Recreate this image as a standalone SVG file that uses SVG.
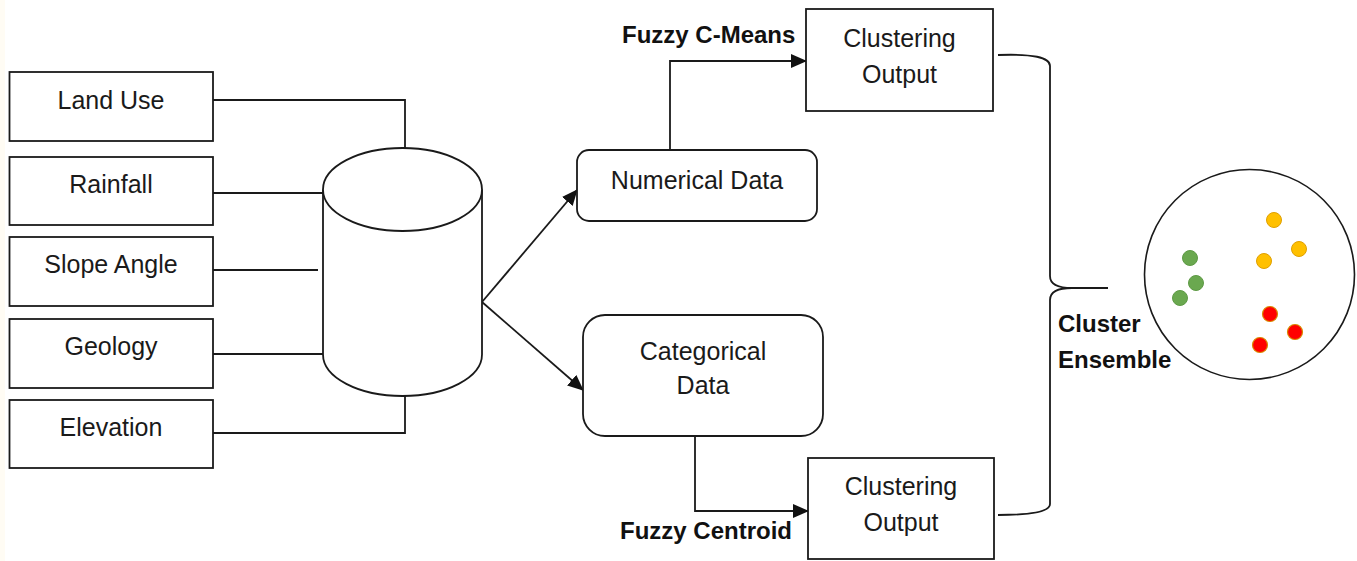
<svg xmlns="http://www.w3.org/2000/svg" width="1357" height="561" viewBox="0 0 1357 561">
  <defs>
    <marker id="arrow" markerUnits="userSpaceOnUse" markerWidth="16" markerHeight="14" refX="15" refY="7" orient="auto">
      <path d="M0,0 L16,7 L0,14 Z" fill="#111"/>
    </marker>
    <style>
      .box { fill: #fff; stroke: #1a1a1a; stroke-width: 1.8; }
      .line { fill: none; stroke: #1a1a1a; stroke-width: 1.8; }
      .lbl { font-family: "Liberation Sans", Arial, sans-serif; font-size: 25px; fill: #1a1a1a; text-anchor: middle; }
      .bold { font-family: "Liberation Sans", Arial, sans-serif; font-size: 24px; font-weight: bold; fill: #111; }
      .dot-g { fill: #6aa84f; stroke: #5e9a45; stroke-width: 1; }
      .dot-y { fill: #ffc000; stroke: #e0a000; stroke-width: 1; }
      .dot-r { fill: #ff0000; stroke: #d98a00; stroke-width: 1.2; }
    </style>
  </defs>

  <rect x="0" y="0" width="1357" height="561" fill="#fff"/>
  <rect x="0" y="0" width="5" height="561" fill="#fffcf4"/>

  <!-- connectors -->
  <g id="connectors">
    <path class="line" d="M213,100 H405 V148"/>
    <path class="line" d="M213,193 H323"/>
    <path class="line" d="M213,270 H318"/>
    <path class="line" d="M213,354 H323"/>
    <path class="line" d="M213,433 H405 V396"/>
    <path class="line" d="M482,302 L577,190" marker-end="url(#arrow)"/>
    <path class="line" d="M482,302 L583,390" marker-end="url(#arrow)"/>
    <path class="line" d="M670,150 V61 H806" marker-end="url(#arrow)"/>
    <path class="line" d="M695,436 V511 H808" marker-end="url(#arrow)"/>
    <!-- curly brace joining both clustering outputs -->
    <path class="line" d="M998,55 Q1050,53 1050,66 V276 Q1050,288 1072,288 H1108 M1072,288 Q1050,288 1050,300 V504 Q1050,515 998,515"/>
  </g>

  <!-- input attribute boxes -->
  <g id="land-use">
    <rect class="box" x="9.5" y="72" width="203.5" height="69"/>
    <text class="lbl" x="111" y="109">Land Use</text>
  </g>
  <g id="rainfall">
    <rect class="box" x="9.5" y="157" width="203.5" height="68"/>
    <text class="lbl" x="111" y="193">Rainfall</text>
  </g>
  <g id="slope-angle">
    <rect class="box" x="9.5" y="237" width="203.5" height="69"/>
    <text class="lbl" x="111" y="273">Slope Angle</text>
  </g>
  <g id="geology">
    <rect class="box" x="9.5" y="319" width="203.5" height="69"/>
    <text class="lbl" x="111" y="355">Geology</text>
  </g>
  <g id="elevation">
    <rect class="box" x="9.5" y="400" width="203.5" height="68"/>
    <text class="lbl" x="111" y="436">Elevation</text>
  </g>

  <!-- database cylinder -->
  <g id="database">
    <path class="box" d="M323,189.5 V354.5 A79.5,41.5 0 0 0 482,354.5 V189.5"/>
    <ellipse class="box" cx="402.5" cy="189.5" rx="79.5" ry="41.5"/>
  </g>

  <g id="numerical-data">
    <rect class="box" x="577" y="150" width="240" height="71" rx="12"/>
    <text class="lbl" x="697" y="189">Numerical Data</text>
  </g>
  <g id="categorical-data">
    <rect class="box" x="583" y="315" width="240" height="121" rx="22"/>
    <text class="lbl" x="703" y="360">Categorical</text>
    <text class="lbl" x="703" y="394">Data</text>
  </g>

  <g id="clustering-output-1">
    <rect class="box" x="806" y="9" width="187" height="102"/>
    <text class="lbl" x="899.5" y="47">Clustering</text>
    <text class="lbl" x="899.5" y="83">Output</text>
  </g>
  <g id="clustering-output-2">
    <rect class="box" x="808" y="458" width="186" height="101"/>
    <text class="lbl" x="901" y="495">Clustering</text>
    <text class="lbl" x="901" y="531">Output</text>
  </g>

  <g id="labels">
    <text class="bold" x="622" y="43">Fuzzy C-Means</text>
    <text class="bold" x="620" y="539">Fuzzy Centroid</text>
    <text class="bold" x="1058" y="332">Cluster</text>
    <text class="bold" x="1058" y="368">Ensemble</text>
  </g>

  <!-- ensemble result -->
  <g id="ensemble">
    <circle cx="1249.5" cy="274.5" r="105" fill="#fff" stroke="#1a1a1a" stroke-width="1.6"/>
    <circle class="dot-y" cx="1274" cy="220" r="7.5"/>
    <circle class="dot-y" cx="1299" cy="249" r="7.5"/>
    <circle class="dot-y" cx="1264" cy="261" r="7.5"/>
    <circle class="dot-g" cx="1190" cy="258" r="7.5"/>
    <circle class="dot-g" cx="1196" cy="283" r="7.5"/>
    <circle class="dot-g" cx="1180" cy="298" r="7.5"/>
    <circle class="dot-r" cx="1270" cy="314" r="7.5"/>
    <circle class="dot-r" cx="1295" cy="332" r="7.5"/>
    <circle class="dot-r" cx="1260" cy="345" r="7.5"/>
  </g>
</svg>
